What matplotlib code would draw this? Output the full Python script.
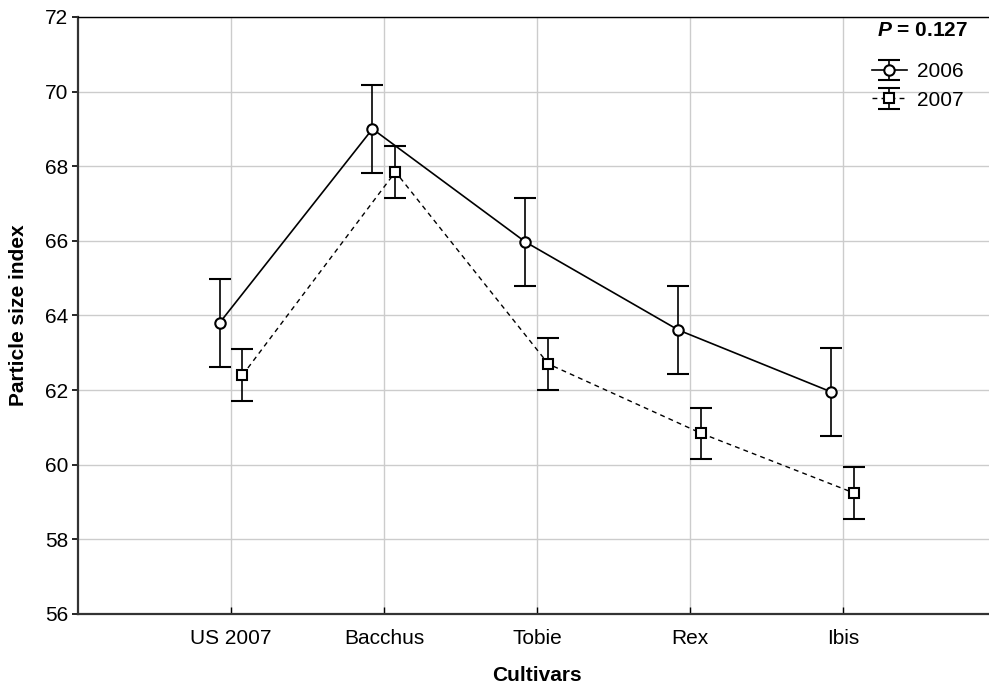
import numpy as np
import matplotlib
matplotlib.use("Agg")
import matplotlib.pyplot as plt

plt.rcParams['font.family'] = ['Liberation Sans', 'DejaVu Sans']
plt.rcParams['mathtext.fontset'] = 'custom'
plt.rcParams['mathtext.it'] = 'Liberation Sans:italic:bold'

cultivars = ["US 2007", "Bacchus", "Tobie", "Rex", "Ibis"]
mean_2006 = [63.8, 69.0, 65.97, 63.61, 61.95]
mean_2007 = [62.4, 67.85, 62.70, 60.84, 59.24]
se_2006 = [1.18, 1.18, 1.18, 1.18, 1.18]
se_2007 = [0.69, 0.69, 0.69, 0.69, 0.69]
p_value = 0.127

fig = plt.figure(figsize=(9.89, 6.93), dpi=100)
ax = fig.add_axes([0.0789, 0.114, 0.928, 0.8615])

x = np.arange(len(cultivars))
off = 0.075

e1 = ax.errorbar(x - off, mean_2006, yerr=se_2006, color='black', lw=1.2,
                 ls='-', marker='o', ms=7.5, mfc='white', mec='black', mew=1.5,
                 capsize=8, capthick=1.2, elinewidth=1.2, label='2006', zorder=3)
e2 = ax.errorbar(x + off, mean_2007, yerr=se_2007, color='black', lw=1.0,
                 ls=(0, (3.5, 3)), marker='s', ms=7, mfc='white', mec='black', mew=1.5,
                 capsize=8, capthick=1.2, elinewidth=1.2, label='2007', zorder=3)

ax.set_xlim(-1, 5)
ax.set_ylim(56, 72)
ax.set_yticks(np.arange(56, 73, 2))
ax.set_xticks(x)
ax.set_xticklabels(cultivars)

ax.grid(True, color='#cccccc', lw=1.0, zorder=0)
ax.set_axisbelow(True)

for s in ['left', 'bottom']:
    ax.spines[s].set_linewidth(1.6)
    ax.spines[s].set_color('#333333')
ax.spines['top'].set_linewidth(1.0)
ax.spines['right'].set_visible(False)

ax.tick_params(axis='y', direction='out', length=4, width=1.2, labelsize=15, pad=3)
ax.tick_params(axis='x', direction='in', length=5, width=1.0, labelsize=15, pad=11)

ax.set_xlabel("Cultivars", fontsize=15, fontweight='bold', labelpad=13)
ax.set_ylabel("Particle size index", fontsize=15, fontweight='bold', labelpad=12)

# p-value for the cultivar x year interaction
ax.text(0.9695, 0.978, r"$P$ = " + f"{p_value:.3f}", transform=ax.transAxes,
        ha='right', va='center', fontsize=15, fontweight='bold')

leg = ax.legend(handles=[e1, e2], loc='upper right', bbox_to_anchor=(0.978, 0.945),
                frameon=False, fontsize=15, handlelength=1.7, handletextpad=0.45,
                labelspacing=0.45, borderaxespad=0.2)

fig.savefig("out.png", dpi=100)
